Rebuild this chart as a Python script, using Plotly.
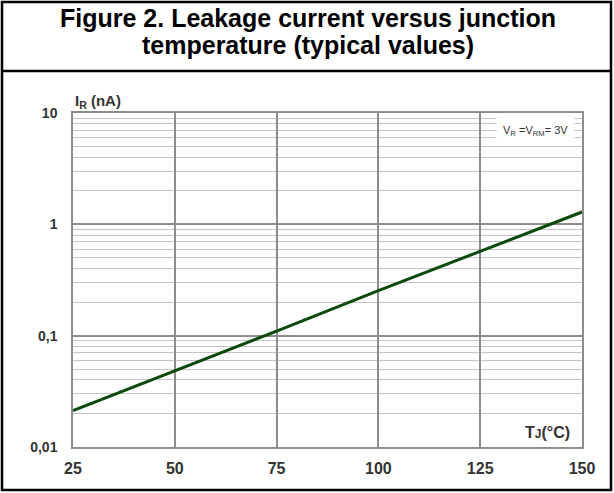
import plotly.graph_objects as go

# junction temperature (°C) and typical leakage current (nA)
tj_values = [25, 50, 75, 100, 125, 150]
ir_values = [0.0212, 0.048, 0.110, 0.254, 0.57, 1.29]

x_ticks = [25, 50, 75, 100, 125, 150]
y_ticks = [0.01, 0.1, 1, 10]
y_tick_text = ["0,01", "0,1", "1", "10"]
decades = [0.01, 0.1, 1]
minor_steps = [2, 3, 4, 5, 6, 7, 8, 9]

W, H = 614, 493
L, R, T, B = 73, 582, 113, 447


def px(x):
    return (x - L) / (R - L)


def py(y):
    return (B - y) / (B - T)


fig = go.Figure()

fig.add_trace(go.Scatter(
    x=tj_values,
    y=ir_values,
    mode='lines',
    line=dict(color='#0a4a0a', width=3),
    showlegend=False,
    hoverinfo='skip'),
)

font_family = "Liberation Sans, Arial, sans-serif"

fig.update_layout(
    width=W, height=H,
    margin=dict(l=L, r=W - R, t=T, b=H - B),
    paper_bgcolor='white',
    plot_bgcolor='white',
    font=dict(family=font_family, color='#333333'),
    xaxis=dict(
        range=[25, 150],
        tickvals=x_ticks,
        showgrid=True, gridcolor='#8c8c8c', gridwidth=1.5,
        zeroline=False,
        showline=True, linecolor='#8c8c8c', linewidth=1.5, mirror=True,
        ticks='outside', ticklen=6, tickcolor='rgba(0,0,0,0)',
        tickfont=dict(size=16, family=font_family, color='#333333', weight='bold'),
    ),
    yaxis=dict(
        type='log',
        range=[-2, 1],
        tickvals=y_ticks,
        ticktext=y_tick_text,
        showgrid=True, gridcolor='#8c8c8c', gridwidth=1.5,
        zeroline=False,
        showline=True, linecolor='#8c8c8c', linewidth=1.5, mirror=True,
        ticks='outside', ticklen=11, tickcolor='rgba(0,0,0,0)',
        tickfont=dict(size=14, family=font_family, color='#333333', weight='bold'),
        minor=dict(
            tickvals=[d * m for d in decades for m in minor_steps],
            showgrid=True, gridcolor='#c4c4c4', gridwidth=1.2,
            ticks='',
        ),
    ),
)

# outer frame and title separator
fig.add_shape(type='rect', xref='paper', yref='paper',
              x0=px(2), x1=px(611), y0=py(2), y1=py(490),
              line=dict(color='black', width=2.5), layer='above')
fig.add_shape(type='line', xref='paper', yref='paper',
              x0=px(2), x1=px(611), y0=py(71), y1=py(71),
              line=dict(color='black', width=2.5), layer='above')

title_lines = ["Figure 2. Leakage current versus junction",
               "temperature (typical values)"]
for i, line in enumerate(title_lines):
    fig.add_annotation(
        xref='paper', yref='paper', x=px(308), y=py(18 + 27 * i),
        text=f"<b>{line}</b>", showarrow=False,
        xanchor='center', yanchor='middle',
        font=dict(size=25, family=font_family, color='black'),
    )

fig.add_annotation(
    xref='paper', yref='paper', x=px(73), y=py(102),
    text="<b>I<sub>R</sub> (nA)</b>", showarrow=False,
    xanchor='left', yanchor='middle',
    font=dict(size=15, family=font_family, color='#333333'),
)

fig.add_annotation(
    xref='paper', yref='paper', x=px(572), y=py(432),
    text="<b>T<span style='font-size:12px'>J</span>(°C)</b>", showarrow=False,
    xanchor='right', yanchor='middle',
    font=dict(size=16, family=font_family, color='#333333'),
)

fig.add_annotation(
    xref='paper', yref='paper', x=px(535), y=py(131),
    text="V<sub>R</sub> =V<sub>RM</sub>= 3V", showarrow=False,
    xanchor='center', yanchor='middle',
    bgcolor='white', borderpad=6,
    font=dict(size=11, family=font_family, color='#333333'),
)

fig.write_html("out.html", config={'displayModeBar': False},
               post_script="document.body.style.margin='0px';")
